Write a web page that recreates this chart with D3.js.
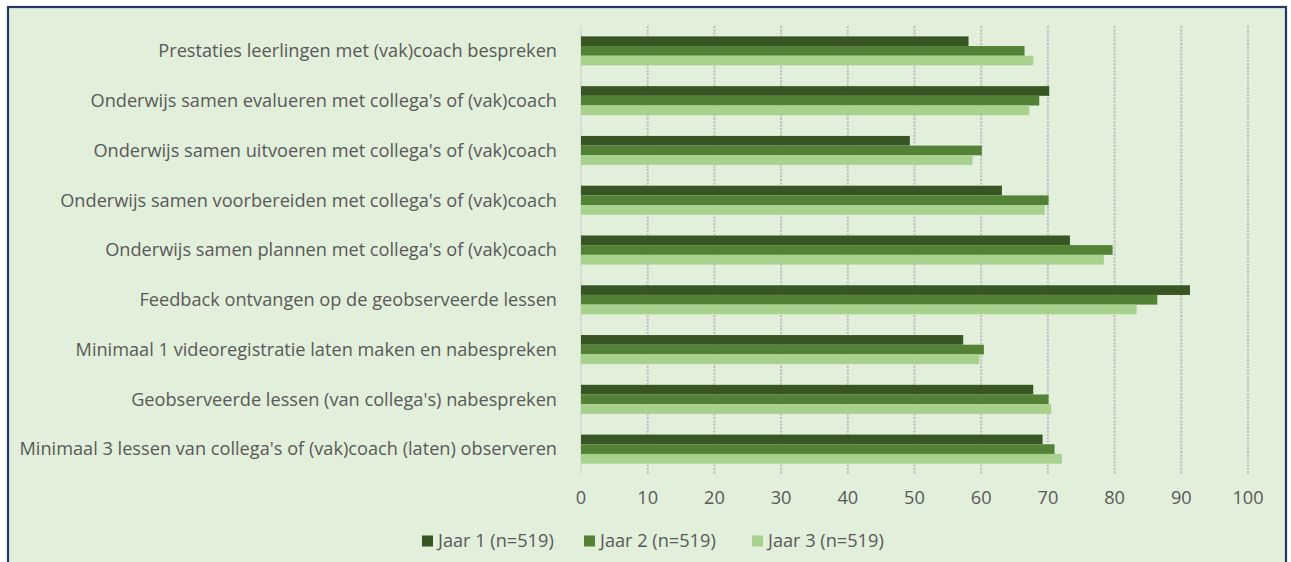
<!DOCTYPE html>
<html>
<head>
<meta charset="utf-8">
<script src="https://cdn.jsdelivr.net/npm/d3@7"></script>
<style>
  html, body { margin: 0; padding: 0; background: #fff; }
  svg { display: block; font-family: "Open Sans", Lato, sans-serif; }
  .label, .tick-label, .legend-text { fill: #595959; font-size: 16px; }
</style>
</head>
<body>
<div id="chart"></div>
<script>
// data
const categories = [
  "Prestaties leerlingen met (vak)coach bespreken",
  "Onderwijs samen evalueren met collega's of (vak)coach",
  "Onderwijs samen uitvoeren met collega's of (vak)coach",
  "Onderwijs samen voorbereiden met collega's of (vak)coach",
  "Onderwijs samen plannen met collega's of (vak)coach",
  "Feedback ontvangen op de geobserveerde lessen",
  "Minimaal 1 videoregistratie laten maken en nabespreken",
  "Geobserveerde lessen (van collega's) nabespreken",
  "Minimaal 3 lessen van collega's of (vak)coach (laten) observeren"
];
const seriesNames = ["Jaar 1 (n=519)", "Jaar 2 (n=519)", "Jaar 3 (n=519)"];
const jaar1 = [58.1, 70.2, 49.3, 63.1, 73.3, 91.3, 57.3, 67.8, 69.2];
const jaar2 = [66.5, 68.7, 60.1, 70.1, 79.7, 86.4, 60.4, 70.1, 71.0];
const jaar3 = [67.8, 67.2, 58.7, 69.5, 78.4, 83.3, 59.7, 70.5, 72.1];
const tickValues = [0, 10, 20, 30, 40, 50, 60, 70, 80, 90, 100];

const series = [jaar1, jaar2, jaar3];
const colors = ["#375623", "#538135", "#a9d18e"];

////////////////////////////  Init  ///////////////////////////////
const width = 1291, height = 562;
const svg = d3.select("#chart").append("svg")
  .attr("width", width).attr("height", height);

// background + border
svg.append("rect")
  .attr("x", 8).attr("y", 7)
  .attr("width", 1278).attr("height", 570)
  .attr("fill", "#e2efda")
  .attr("stroke", "#1f3864")
  .attr("stroke-width", 2.2);

const plot = { left: 581, right: 1248, top: 26, bottom: 474 };

// font size fitted so the longest label is as wide as in the picture (Calibri substitute)
const probe = svg.append("text").attr("class", "label").text(categories[8]);
const fontSize = 16 * 538 / probe.node().getComputedTextLength();
probe.remove();

// scales
const xScale = d3.scaleLinear().domain([0, 100]).range([plot.left, plot.right]);
const yScale = d3.scaleBand().domain(categories)
  .range([plot.top, plot.bottom]).paddingInner(0.417).paddingOuter(0.2085);
const ySub = d3.scaleBand().domain(d3.range(3)).range([0, yScale.bandwidth()]);

// dotted gridlines
svg.append("g").selectAll("line")
  .data(tickValues.slice(1))
  .join("line")
  .attr("x1", d => xScale(d)).attr("x2", d => xScale(d))
  .attr("y1", plot.top).attr("y2", plot.bottom)
  .attr("stroke", "#bcbcbc")
  .attr("stroke-width", 2)
  .attr("stroke-dasharray", "2,1.4");

// axis line at 0
svg.append("line")
  .attr("x1", xScale(0)).attr("x2", xScale(0))
  .attr("y1", plot.top).attr("y2", plot.bottom)
  .attr("stroke", "#d0d0d0").attr("stroke-width", 1.2);

// bars
const groups = svg.append("g").selectAll("g")
  .data(categories)
  .join("g")
  .attr("transform", d => `translate(0,${yScale(d)})`);

groups.selectAll("rect")
  .data((d, i) => series.map((s, k) => ({ k, v: s[i] })))
  .join("rect")
  .attr("x", xScale(0))
  .attr("y", d => ySub(d.k))
  .attr("width", d => xScale(d.v) - xScale(0))
  .attr("height", ySub.bandwidth())
  .attr("fill", d => colors[d.k]);

// category labels
svg.append("g").selectAll("text")
  .data(categories)
  .join("text")
  .attr("class", "label")
  .style("font-size", fontSize + "px")
  .attr("x", 557)
  .attr("y", d => yScale(d) + yScale.bandwidth() / 2)
  .attr("dy", "0.35em")
  .attr("text-anchor", "end")
  .text(d => d);

// x tick labels
svg.append("g").selectAll("text")
  .data(tickValues)
  .join("text")
  .attr("class", "tick-label")
  .style("font-size", fontSize + "px")
  .attr("x", d => xScale(d))
  .attr("y", 498)
  .attr("dy", "0.35em")
  .attr("text-anchor", "middle")
  .text(d => d);

// legend
const legendX = [422, 584, 752];
const legend = svg.append("g").selectAll("g")
  .data(seriesNames)
  .join("g")
  .attr("transform", (d, i) => `translate(${legendX[i]},541)`);

legend.append("rect")
  .attr("x", 0).attr("y", -5.5)
  .attr("width", 11).attr("height", 11)
  .attr("fill", (d, i) => colors[i]);

legend.append("text")
  .attr("class", "legend-text")
  .style("font-size", fontSize + "px")
  .attr("x", 16)
  .attr("dy", "0.35em")
  .text(d => d);
</script>
</body>
</html>
